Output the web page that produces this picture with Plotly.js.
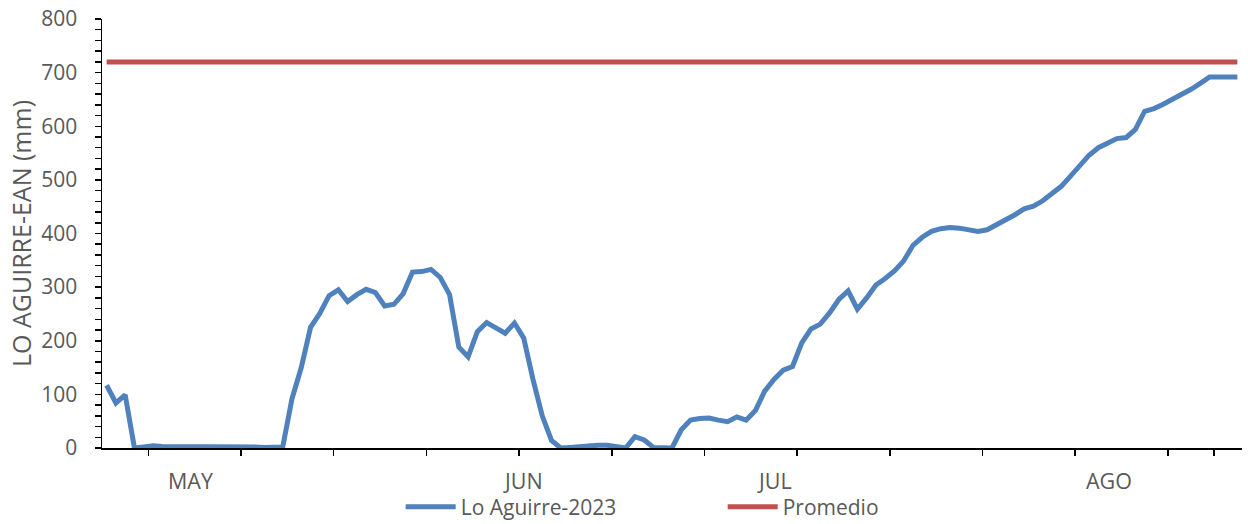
<!DOCTYPE html>
<html>
<head>
<meta charset="utf-8">
<script src="https://cdn.plot.ly/plotly-3.0.1.min.js"></script>
<style>html,body{margin:0;padding:0;background:#fff;}#chart{width:1248px;height:524px;}</style>
</head>
<body>
<div id="chart"></div>
<script>
// Daily values, 1 May - 31 Aug 2023 (day index 0..122)
const seriesName = "Lo Aguirre-2023";
const loAguirre2023 = [
  117, 84, 99, 0, 2, 4, 3, 3, 2, 2, 3, 3, 3, 4, 4, 3, 2, 1, 1, 2,
  92, 150, 225, 251, 284, 295, 273, 286, 296, 290,
  265, 268, 288, 328, 329, 333, 318, 286, 188, 170,
  217, 234, 224, 214, 233, 205, 128, 60, 14, 0,
  1, 3, 4, 5, 5, 3, 0, 21, 15, 1,
  1, 0, 34, 52, 55, 56, 52, 49, 58, 52,
  70, 106, 128, 145, 152, 196, 222, 231, 252, 277,
  293, 259, 280, 304, 316, 330, 349, 378, 393, 404,
  409, 411, 410, 407, 404, 407, 416, 424, 435, 446,
  451, 461, 474, 488, 507, 527, 546, 560, 569, 577,
  579, 594, 628, 633, 641, 650, 659, 669, 680, 692,
  692, 692, 692
];
const averageName = "Promedio";
const promedioValue = 720;
const dayIndex = loAguirre2023.map((_, i) => i);
const promedio = dayIndex.map(() => promedioValue);

// x-axis tick marks (between days) and month labels
const tickDays = [4.5, 14.5, 24.5, 34.5, 44.5, 54.5, 64.5, 74.5, 84.5, 94.5, 104.5, 114.5, 119.5];
const monthLabels = ["MAY", "JUN", "JUL", "AGO"];
const monthLabelDays = [9.05, 44.9, 72.1, 108.1];

const yTitle = "LO AGUIRRE-EAN (mm)";
const FONT = "Open Sans, Liberation Sans, sans-serif";
const GREY = "#595959";

const traces = [
  {
    x: dayIndex, y: loAguirre2023, type: "scatter", mode: "lines", name: seriesName,
    line: {color: "#4F81BD", width: 5, shape: "linear"}, hoverinfo: "skip"
  },
  {
    x: dayIndex, y: promedio, type: "scatter", mode: "lines", name: averageName,
    line: {color: "#C0504D", width: 5}, hoverinfo: "skip"
  }
];

const annotations = monthLabels.map((t, k) => ({
  text: t, x: monthLabelDays[k], xref: "x", y: 0, yref: "paper",
  yshift: -32, yanchor: "middle", xanchor: "center", showarrow: false,
  font: {family: FONT, size: 21.5, color: GREY}
}));

const layout = {
  width: 1248, height: 524,
  margin: {l: 101.5, r: 6.3, t: 19, b: 76, autoexpand: false},
  paper_bgcolor: "#ffffff", plot_bgcolor: "#ffffff",
  font: {family: FONT, size: 21, color: GREY},
  showlegend: true,
  legend: {
    orientation: "h", x: 0.262, xanchor: "left", y: -0.09, yanchor: "top",
    entrywidth: 257, entrywidthmode: "pixels", itemwidth: 50,
    font: {family: FONT, size: 21, color: GREY}, bgcolor: "rgba(0,0,0,0)"
  },
  xaxis: {
    range: [-0.5, 122.5], showgrid: false, zeroline: false,
    showline: true, linecolor: "#000000", linewidth: 1.5,
    tickmode: "array", tickvals: tickDays, ticktext: tickDays.map(() => ""),
    ticks: "outside", ticklen: 6, tickwidth: 1.5, tickcolor: "#000000",
    fixedrange: true
  },
  yaxis: {
    range: [0, 800], dtick: 100, tick0: 0, showgrid: false, zeroline: false,
    showline: true, linecolor: "#000000", linewidth: 1.5,
    ticks: "outside", ticklen: 6, tickwidth: 1.5, tickcolor: "#000000",
    minor: {dtick: 20, ticks: "outside", ticklen: 6, tickwidth: 1.5, tickcolor: "#000000", showgrid: false},
    tickfont: {family: FONT, size: 21, color: GREY},
    ticklabelstandoff: 13,
    title: {text: yTitle, font: {family: FONT, size: 25, color: GREY}, standoff: 2},
    fixedrange: true
  },
  annotations: annotations
};

Plotly.newPlot("chart", traces, layout, {staticPlot: true, displayModeBar: false});
</script>
</body>
</html>
